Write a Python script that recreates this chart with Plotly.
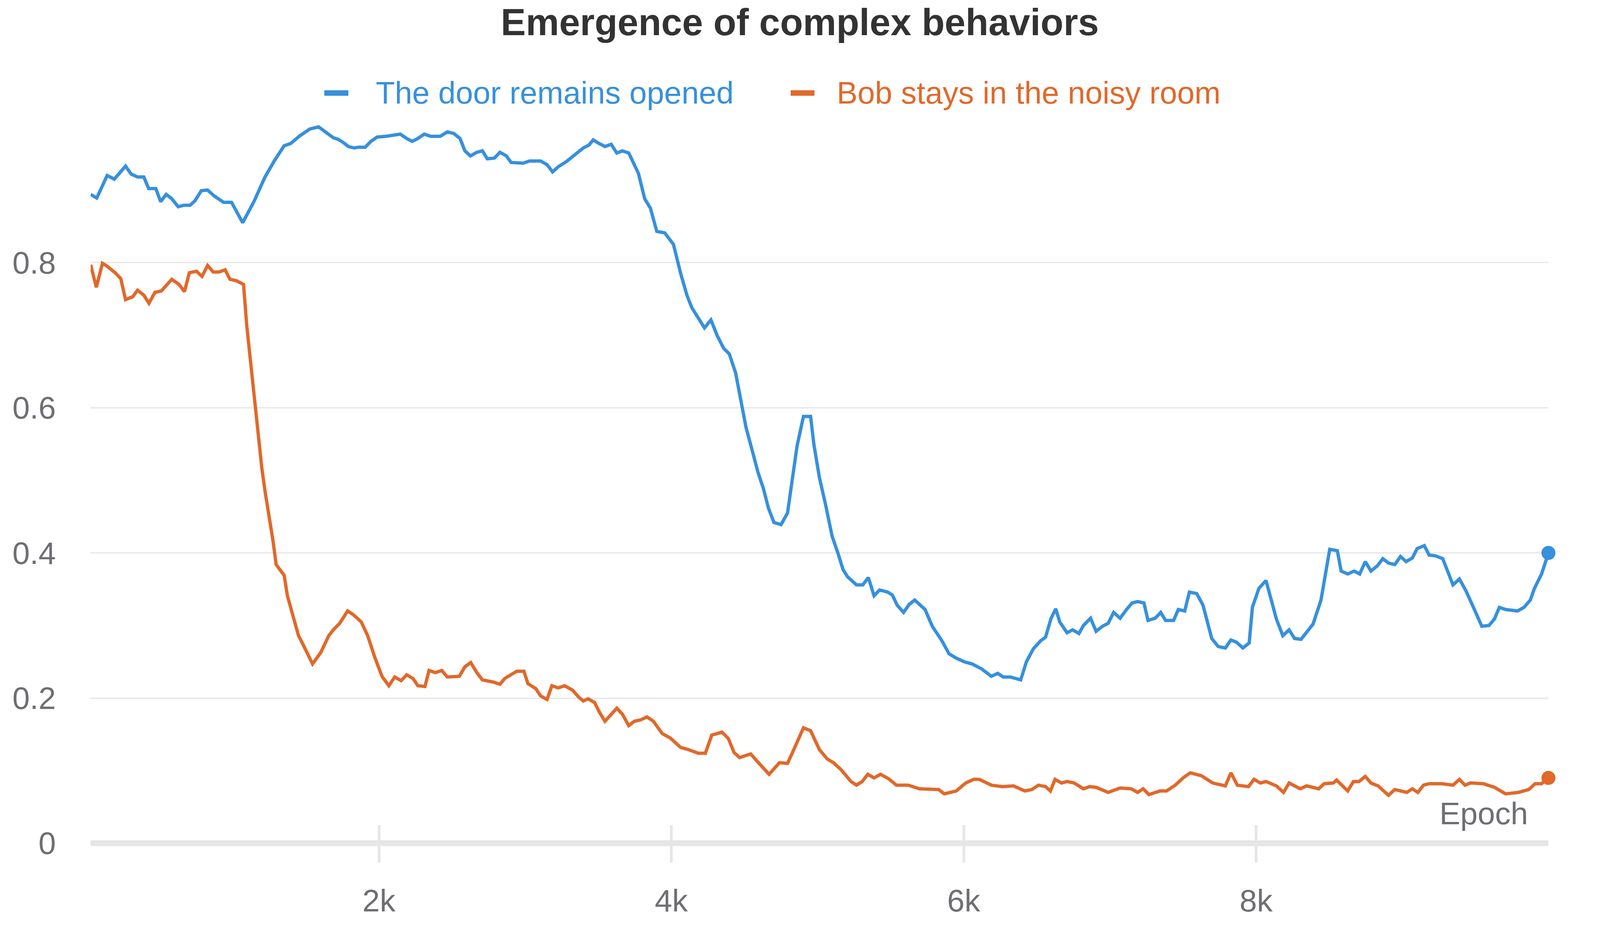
import plotly.graph_objects as go

# ---------------- data ----------------
door_epochs = [28, 70, 141, 190, 267, 305, 349, 392, 425, 474, 507, 545, 583, 627, 665, 708, 741, 785, 828, 872,
               938, 992, 1068, 1145, 1221, 1287, 1352, 1396, 1461, 1527, 1587, 1636, 1688, 1720, 1753, 1791, 1830,
               1863, 1906, 1945, 1988, 2048, 2146, 2190, 2228, 2266, 2310, 2353, 2419, 2468, 2512, 2555, 2588, 2626,
               2670, 2708, 2741, 2790, 2828, 2872, 2904, 2986, 3030, 3106, 3150, 3188, 3226, 3281, 3346, 3398, 3437,
               3466, 3507, 3546, 3589, 3627, 3665, 3709, 3775, 3818, 3857, 3901, 3955, 4015, 4064, 4107, 4140, 4227,
               4271, 4315, 4358, 4397, 4440, 4511, 4555, 4593, 4631, 4664, 4702, 4751, 4795, 4828, 4860, 4904, 4953,
               4975, 5013, 5057, 5100, 5141, 5175, 5206, 5267, 5310, 5348, 5387, 5425, 5480, 5512, 5545, 5589, 5627,
               5665, 5736, 5785, 5851, 5900, 5949, 6004, 6058, 6124, 6189, 6233, 6270, 6319, 6390, 6429, 6477, 6527,
               6560, 6598, 6630, 6657, 6707, 6745, 6789, 6819, 6868, 6906, 6950, 6988, 7026, 7070, 7114, 7152, 7190,
               7233, 7261, 7310, 7348, 7381, 7436, 7468, 7512, 7544, 7594, 7637, 7697, 7741, 7790, 7828, 7866, 7910,
               7953, 7975, 8019, 8068, 8139, 8183, 8226, 8264, 8308, 8390, 8444, 8504, 8556, 8582, 8627, 8671, 8709,
               8747, 8786, 8829, 8867, 8906, 8949, 8988, 9026, 9069, 9102, 9151, 9184, 9227, 9277, 9315, 9347, 9391,
               9435, 9489, 9544, 9593, 9631, 9664, 9707, 9789, 9833, 9876, 9904, 9953, 10000]
door_values = [0.894, 0.889, 0.920, 0.915, 0.933, 0.922, 0.918, 0.918, 0.902, 0.902, 0.884, 0.894, 0.888, 0.877,
               0.879, 0.879, 0.885, 0.899, 0.900, 0.892, 0.883, 0.883, 0.855, 0.884, 0.918, 0.941, 0.961, 0.964,
               0.975, 0.984, 0.987, 0.980, 0.972, 0.970, 0.966, 0.960, 0.958, 0.959, 0.959, 0.967, 0.973, 0.974,
               0.977, 0.971, 0.967, 0.971, 0.977, 0.974, 0.974, 0.980, 0.978, 0.971, 0.954, 0.947, 0.952, 0.954,
               0.943, 0.944, 0.952, 0.947, 0.938, 0.937, 0.940, 0.940, 0.935, 0.925, 0.932, 0.939, 0.949, 0.958,
               0.962, 0.969, 0.964, 0.960, 0.963, 0.951, 0.954, 0.951, 0.923, 0.888, 0.875, 0.843, 0.841, 0.825,
               0.785, 0.755, 0.738, 0.710, 0.721, 0.699, 0.682, 0.674, 0.648, 0.573, 0.540, 0.511, 0.488, 0.462,
               0.442, 0.439, 0.455, 0.504, 0.547, 0.588, 0.588, 0.550, 0.504, 0.465, 0.423, 0.399, 0.377, 0.367,
               0.356, 0.356, 0.366, 0.341, 0.349, 0.346, 0.342, 0.328, 0.318, 0.329, 0.335, 0.322, 0.299, 0.279,
               0.261, 0.255, 0.250, 0.247, 0.240, 0.230, 0.234, 0.229, 0.229, 0.225, 0.250, 0.268, 0.279, 0.284,
               0.310, 0.323, 0.305, 0.290, 0.294, 0.289, 0.300, 0.310, 0.292, 0.299, 0.303, 0.318, 0.310, 0.322,
               0.331, 0.333, 0.331, 0.307, 0.310, 0.318, 0.307, 0.307, 0.322, 0.320, 0.346, 0.344, 0.328, 0.282,
               0.271, 0.269, 0.280, 0.277, 0.269, 0.276, 0.325, 0.351, 0.362, 0.309, 0.286, 0.294, 0.282, 0.281,
               0.302, 0.335, 0.405, 0.403, 0.375, 0.371, 0.375, 0.371, 0.388, 0.375, 0.382, 0.392, 0.386, 0.384,
               0.395, 0.388, 0.393, 0.406, 0.410, 0.397, 0.396, 0.392, 0.372, 0.356, 0.364, 0.348, 0.324, 0.299,
               0.300, 0.309, 0.325, 0.322, 0.320, 0.325, 0.335, 0.351, 0.371, 0.400]

bob_epochs = [28, 67, 109, 141, 196, 234, 267, 316, 349, 392, 427, 468, 512, 583, 632, 670, 703, 752, 790, 828,
              867, 905, 948, 981, 1025, 1074, 1096, 1123, 1150, 1172, 1199, 1221, 1248, 1276, 1297, 1352, 1374,
              1406, 1450, 1483, 1546, 1603, 1657, 1688, 1732, 1786, 1824, 1879, 1923, 1972, 2021, 2068, 2108,
              2152, 2190, 2233, 2266, 2315, 2343, 2386, 2430, 2468, 2550, 2588, 2628, 2670, 2708, 2784, 2828,
              2861, 2943, 2992, 3019, 3073, 3106, 3150, 3183, 3226, 3270, 3324, 3368, 3398, 3431, 3475, 3507,
              3546, 3589, 3627, 3665, 3709, 3747, 3791, 3834, 3878, 3938, 3993, 4064, 4118, 4184, 4233, 4277,
              4347, 4391, 4429, 4467, 4543, 4587, 4669, 4740, 4795, 4838, 4904, 4953, 5013, 5067, 5109, 5163,
              5229, 5267, 5306, 5344, 5387, 5431, 5485, 5540, 5621, 5698, 5785, 5829, 5867, 5949, 6014, 6069,
              6107, 6189, 6265, 6341, 6418, 6467, 6511, 6560, 6593, 6625, 6669, 6707, 6756, 6819, 6862, 6906,
              6988, 7070, 7146, 7190, 7228, 7267, 7343, 7387, 7447, 7507, 7550, 7626, 7703, 7790, 7828, 7872,
              7948, 7986, 8030, 8068, 8139, 8188, 8226, 8302, 8346, 8428, 8466, 8529, 8551, 8584, 8627, 8666,
              8704, 8747, 8786, 8835, 8906, 8949, 9031, 9069, 9107, 9145, 9184, 9271, 9347, 9391, 9429, 9467,
              9555, 9631, 9707, 9794, 9865, 9909, 9953, 10000]
bob_values = [0.797, 0.766, 0.799, 0.795, 0.786, 0.778, 0.749, 0.753, 0.762, 0.755, 0.744, 0.759, 0.761, 0.777,
              0.770, 0.760, 0.786, 0.788, 0.781, 0.796, 0.787, 0.787, 0.790, 0.777, 0.775, 0.770, 0.713, 0.661,
              0.609, 0.569, 0.517, 0.485, 0.452, 0.416, 0.384, 0.369, 0.341, 0.318, 0.286, 0.273, 0.247, 0.263,
              0.286, 0.294, 0.303, 0.320, 0.315, 0.305, 0.286, 0.256, 0.230, 0.217, 0.229, 0.224, 0.232, 0.227,
              0.217, 0.216, 0.238, 0.235, 0.238, 0.229, 0.230, 0.243, 0.249, 0.235, 0.225, 0.222, 0.219, 0.227,
              0.237, 0.237, 0.220, 0.213, 0.203, 0.198, 0.217, 0.214, 0.217, 0.211, 0.201, 0.196, 0.199, 0.194,
              0.181, 0.168, 0.178, 0.186, 0.178, 0.162, 0.168, 0.170, 0.174, 0.168, 0.151, 0.145, 0.132, 0.129,
              0.124, 0.124, 0.149, 0.153, 0.144, 0.125, 0.118, 0.123, 0.113, 0.095, 0.111, 0.110, 0.129, 0.159,
              0.155, 0.129, 0.116, 0.111, 0.101, 0.085, 0.080, 0.085, 0.095, 0.090, 0.095, 0.089, 0.080, 0.080,
              0.075, 0.074, 0.074, 0.068, 0.072, 0.083, 0.088, 0.088, 0.080, 0.078, 0.079, 0.072, 0.074, 0.080,
              0.078, 0.072, 0.088, 0.083, 0.085, 0.083, 0.075, 0.078, 0.077, 0.070, 0.076, 0.075, 0.070, 0.075,
              0.067, 0.072, 0.072, 0.080, 0.091, 0.097, 0.093, 0.083, 0.079, 0.097, 0.080, 0.078, 0.088, 0.083,
              0.085, 0.079, 0.070, 0.083, 0.075, 0.079, 0.075, 0.082, 0.083, 0.087, 0.080, 0.072, 0.085, 0.085,
              0.092, 0.083, 0.079, 0.066, 0.074, 0.070, 0.075, 0.070, 0.080, 0.082, 0.082, 0.080, 0.088, 0.080,
              0.083, 0.082, 0.077, 0.068, 0.070, 0.074, 0.082, 0.082, 0.090]

series_names = ["The door remains opened", "Bob stays in the noisy room"]
series_colors = ["#3790dc", "#e0692b"]
x_tick_values = [2000, 4000, 6000, 8000]
x_tick_labels = ["2k", "4k", "6k", "8k"]
y_tick_values = [0, 0.2, 0.4, 0.6, 0.8]
y_tick_labels = ["0", "0.2", "0.4", "0.6", "0.8"]
title_text = "Emergence of complex behaviors"
x_title = "Epoch"

# The capture viewport is 4096x2400, so the 4800x2400 reference layout is
# compressed horizontally (factor 4096/4800) while vertical positions are kept.
FONT = "Liberation Sans, Arial, Helvetica, sans-serif"
LABEL_GRAY = "#6e6e73"
GRID = "#e6e6e6"
TXT = 80

fig = go.Figure()
series = [(door_epochs, door_values), (bob_epochs, bob_values)]
for (xs, ys), name, col in zip(series, series_names, series_colors):
    fig.add_trace(go.Scatter(x=xs, y=ys, mode="lines", name=name,
                             line=dict(color=col, width=8.5), showlegend=False,
                             hoverinfo="skip"))
    fig.add_trace(go.Scatter(x=[xs[-1]], y=[ys[-1]], mode="markers", name=name,
                             marker=dict(color=col, size=36), showlegend=False,
                             cliponaxis=False, hoverinfo="skip"))

# legend drawn as symbol + coloured text
legend_sym_x = [(0.1603, 0.1768), (0.4802, 0.4965)]
legend_txt_x = [0.1950, 0.5112]
legend_y = 1.0435
for (x0, x1), tx, name, col in zip(legend_sym_x, legend_txt_x, series_names, series_colors):
    fig.add_shape(type="line", xref="paper", yref="paper", x0=x0, x1=x1, y0=legend_y, y1=legend_y,
                  line=dict(color=col, width=14))
    fig.add_annotation(x=tx, y=legend_y, xref="paper", yref="paper", text=name, showarrow=False,
                       xanchor="left", yanchor="middle", font=dict(family=FONT, size=TXT, color=col))

# title
fig.add_annotation(x=0.4866, y=1.1395, xref="paper", yref="paper", text=title_text, showarrow=False,
                   xanchor="center", yanchor="middle",
                   font=dict(family=FONT, size=96, color="#333333", weight="bold"))
# axis title
fig.add_annotation(x=0.9867, y=0.041, xref="paper", yref="y", text=x_title, showarrow=False,
                   xanchor="right", yanchor="middle", font=dict(family=FONT, size=TXT, color=LABEL_GRAY))

fig.update_layout(
    width=4096, height=2400, autosize=False,
    margin=dict(l=232, r=132, t=320, b=193, pad=0),
    paper_bgcolor="white", plot_bgcolor="white",
    font=dict(family=FONT, size=TXT, color=LABEL_GRAY),
    xaxis=dict(range=[28, 10000], showgrid=False, zeroline=False, showline=False,
               ticks="inside", ticklen=96, tickwidth=6.5, tickcolor=GRID,
               tickvals=x_tick_values, ticktext=x_tick_labels,
               tickfont=dict(family=FONT, size=TXT, color=LABEL_GRAY), ticklabelstandoff=44),
    yaxis=dict(range=[-0.02666, 0.9895], showgrid=True, gridcolor=GRID, gridwidth=3,
               zeroline=True, zerolinecolor=GRID, zerolinewidth=15, showline=False, ticks="",
               tickvals=y_tick_values, ticktext=y_tick_labels,
               tickfont=dict(family=FONT, size=TXT, color=LABEL_GRAY), ticklabelstandoff=88),
)

fig.write_html("out.html", config={"displayModeBar": False},
               post_script="document.body.style.margin='0px';")
